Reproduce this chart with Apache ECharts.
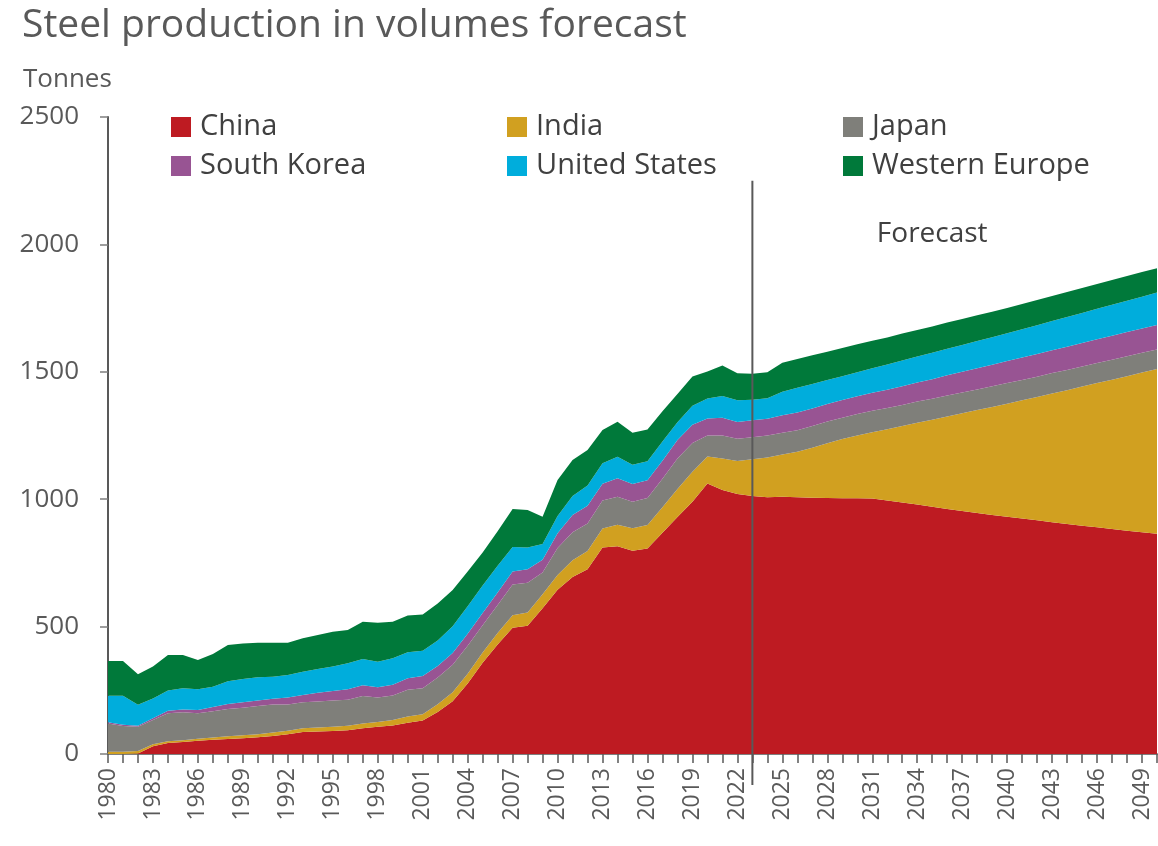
<!DOCTYPE html>
<html>
<head>
<meta charset="utf-8">
<script src="https://cdn.jsdelivr.net/npm/echarts@6/dist/echarts.min.js"></script>
<style>
html,body{margin:0;padding:0;background:#fff;}
#chart{width:1158px;height:846px;}
</style>
</head>
<body>
<div id="chart"></div>
<script>
const years = ['1980','1981','1982','1983','1984','1985','1986','1987','1988','1989',
'1990','1991','1992','1993','1994','1995','1996','1997','1998','1999',
'2000','2001','2002','2003','2004','2005','2006','2007','2008','2009',
'2010','2011','2012','2013','2014','2015','2016','2017','2018','2019',
'2020','2021','2022','2023','2024','2025','2026','2027','2028','2029',
'2030','2031','2032','2033','2034','2035','2036','2037','2038','2039',
'2040','2041','2042','2043','2044','2045','2046','2047','2048','2049','2050'];

const china = [0,0,2,30,43,47,52,56,59,62,
66,71,78,86,88,90,93,101,107,112,
123,131,165,207,277,358,430,495,503,572,
645,695,725,810,815,798,807,868,930,990,
1062,1036,1020,1013,1008,1010,1008,1006,1005,1004,
1004,1003,995,987,979,970,962,954,946,938,
931,924,917,910,903,896,890,883,876,870,864];

const india = [9,9,10,8,7,7,8,9,11,12,
12,13,13,15,16,17,18,19,19,21,
24,25,30,35,38,40,45,50,52,55,
58,65,72,75,85,88,92,100,110,118,
106,124,130,144,156,165,178,196,215,232,
246,260,280,300,321,342,363,383,404,424,
444,464,484,505,525,546,566,586,607,627,647];

const japan = [111,101,95,95,110,110,100,103,107,108,
110,110,103,102,102,103,102,108,96,97,
105,102,105,108,110,107,110,120,117,85,
105,110,108,110,110,104,106,112,120,113,
82,90,87,86,86,86,85,85,85,84,
84,84,83,83,83,82,82,82,81,81,
81,80,80,80,79,79,79,78,78,78,77];

const southKorea = [5,5,4,7,10,11,13,16,19,21,
22,23,28,29,34,37,41,42,40,42,
45,48,45,46,47,48,49,51,53,50,
58,68,69,66,72,70,69,71,72,71,
67,70,66,67,66,68,69,69,69,69,
70,71,72,73,75,77,79,81,83,85,
86,88,89,90,91,92,93,94,95,95,96];

const unitedStates = [104,114,82,78,79,83,81,80,90,91,
91,86,88,91,94,96,102,103,100,104,
102,99,100,105,108,108,105,96,85,62,
68,75,80,80,85,75,75,75,70,75,
78,85,85,80,80,93,97,96,94,94,
94,96,99,101,102,104,104,105,107,108,
109,111,113,114,117,118,119,122,123,125,127];

const westernEurope = [136,136,120,125,140,131,115,128,142,140,
136,134,127,131,133,137,131,146,153,143,
145,142,146,143,136,130,135,150,148,107,
141,141,139,131,137,126,125,119,111,115,
106,120,106,102,102,114,113,113,111,110,
110,108,106,106,104,103,103,102,101,100,
99,99,99,98,98,98,98,97,97,97,95];

const seriesNames = ['China','India','Japan','South Korea','United States','Western Europe'];
const seriesColors = ['#BE1B22','#D1A020','#7F7F7A','#985493','#00ADDC','#00793A'];
const seriesData = [china, india, japan, southKorea, unitedStates, westernEurope];
const yTicks = [0, 500, 1000, 1500, 2000, 2500];
const forecastStart = '2023';
const forecastLabel = 'Forecast';

const FONT = '"Open Sans", "Noto Sans", sans-serif';
const chart = echarts.init(document.getElementById('chart'), null, {renderer:'canvas'});

const legendBase = {
  orient: 'vertical', top: 107, itemGap: 9, itemWidth: 20, itemHeight: 20,
  icon: 'rect', selectedMode: false,
  textStyle: {fontFamily: FONT, fontSize: 29, color: '#404040', lineHeight: 30, padding: [0,0,0,4]}
};

chart.setOption({
  animation: false,
  backgroundColor: '#ffffff',
  color: seriesColors,
  title: [{
    text: 'Steel production in volumes forecast',
    left: 17, top: 1,
    textStyle: {fontFamily: FONT, fontSize: 39, fontWeight: 'normal', color: '#595959'}
  }, {
    text: 'Tonnes',
    left: 18, top: 62,
    textStyle: {fontFamily: FONT, fontSize: 26, fontWeight: 'normal', color: '#595959'}
  }],
  legend: [
    Object.assign({}, legendBase, {left: 166, data: ['China','South Korea']}),
    Object.assign({}, legendBase, {left: 502, data: ['India','United States']}),
    Object.assign({}, legendBase, {left: 838, data: ['Japan','Western Europe']})
  ],
  grid: {left: 108, right: 1, top: 117, bottom: 92, containLabel: false},
  xAxis: {
    type: 'category', data: years, boundaryGap: false,
    axisLine: {show: true, lineStyle: {color: '#7F7F7F', width: 2}},
    axisTick: {show: true, interval: 0, length: 9, lineStyle: {color: '#595959', width: 1.5}},
    axisLabel: {interval: 2, rotate: 90, margin: 14, fontFamily: FONT, fontSize: 23, color: '#595959'},
    splitLine: {show: false}
  },
  yAxis: {
    type: 'value', min: yTicks[0], max: yTicks[yTicks.length-1], interval: 500,
    axisLine: {show: true, lineStyle: {color: '#595959', width: 2}},
    axisTick: {show: true, length: 8, lineStyle: {color: '#7F7F7F', width: 1.5}},
    axisLabel: {margin: 29, fontFamily: FONT, fontSize: 26, color: '#595959',
      formatter: function (v) { return String(v); }},
    splitLine: {show: false}
  },
  series: seriesNames.map((name, i) => ({
    name: name, type: 'line', stack: 'total', data: seriesData[i],
    symbol: 'none', smooth: false,
    lineStyle: {width: 0, color: seriesColors[i]},
    itemStyle: {color: seriesColors[i]},
    areaStyle: {color: seriesColors[i], opacity: 1},
    z: 2
  }))
});

// forecast marker line and label positioned through the axis scales
const fx = chart.convertToPixel({xAxisIndex: 0}, forecastStart);
const yTop = chart.convertToPixel({yAxisIndex: 0}, 2250);
const yZero = chart.convertToPixel({yAxisIndex: 0}, 0);
const lblX = chart.convertToPixel({xAxisIndex: 0}, '2035');
const lblY = chart.convertToPixel({yAxisIndex: 0}, 2040);
chart.setOption({
  graphic: [{
    type: 'line', z: 100,
    shape: {x1: fx, y1: yTop, x2: fx, y2: yZero + 31},
    style: {stroke: '#595959', lineWidth: 2}
  }, {
    type: 'text', z: 100, x: lblX, y: lblY,
    style: {text: forecastLabel, fontFamily: FONT, fontSize: 28, fill: '#404040', align: 'center', verticalAlign: 'middle'}
  }]
});
</script>
</body>
</html>
